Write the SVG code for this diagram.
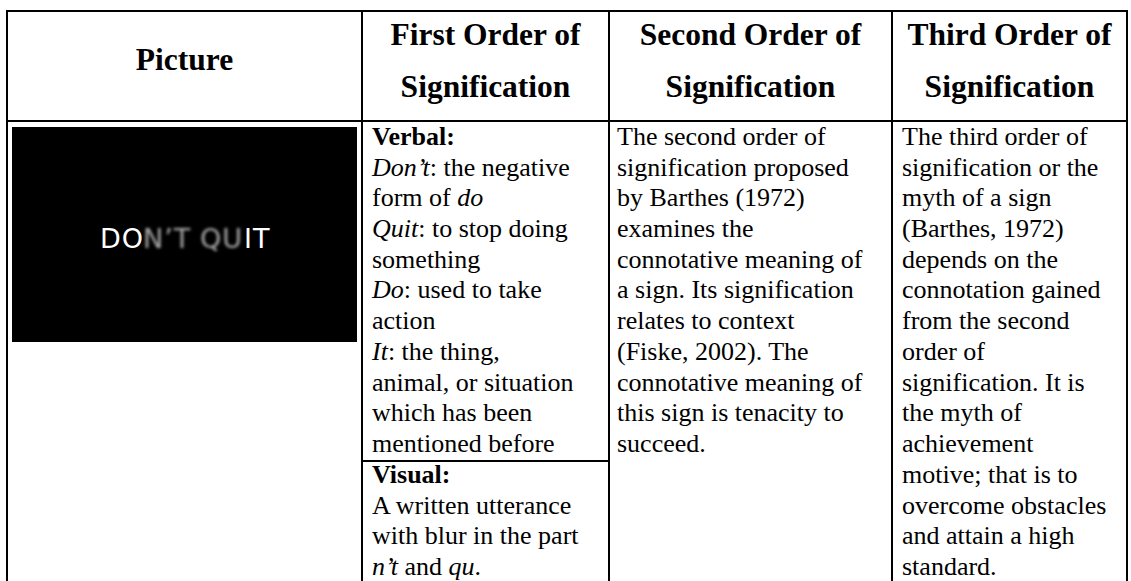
<svg xmlns="http://www.w3.org/2000/svg" width="1131" height="581" viewBox="0 0 1131 581">
<defs>
<style>
.rule{stroke:#000;stroke-width:2;fill:none}
.hd{font-family:"Liberation Serif","Times New Roman",serif;font-weight:bold;font-size:31.5px;fill:#000;text-anchor:middle}
.bd{font-family:"Liberation Serif","Times New Roman",serif;font-size:26px;fill:#000}
.i{font-style:italic}
.b{font-weight:bold}
.pic{font-family:"DejaVu Sans","Liberation Sans",sans-serif;font-size:27px;letter-spacing:1px}
</style>
<filter id="blur" x="-30%" y="-60%" width="160%" height="220%"><feGaussianBlur stdDeviation="1.5"/></filter>
</defs>
<rect width="1131" height="581" fill="#fff"/>
<g id="grid">
<line class="rule" x1="6" y1="11" x2="1128" y2="11"/>
<line class="rule" x1="6" y1="121" x2="1128" y2="121"/>
<line class="rule" x1="7" y1="10" x2="7" y2="581"/>
<line class="rule" x1="362" y1="10" x2="362" y2="581"/>
<line class="rule" x1="609" y1="10" x2="609" y2="581"/>
<line class="rule" x1="892" y1="10" x2="892" y2="581"/>
<line class="rule" x1="1127" y1="10" x2="1127" y2="581"/>
<line class="rule" x1="362" y1="461" x2="609" y2="461"/>
</g>
<g id="header">
<text class="hd" x="184.5" y="70">Picture</text>
<text class="hd" x="485.5" y="45">First Order of</text>
<text class="hd" x="485.5" y="97">Signification</text>
<text class="hd" x="750.5" y="45">Second Order of</text>
<text class="hd" x="750.5" y="97">Signification</text>
<text class="hd" x="1009.5" y="45">Third Order of</text>
<text class="hd" x="1009.5" y="97">Signification</text>
</g>
<g id="picture">
<rect x="12" y="127" width="345" height="215" fill="#000"/>
<text class="pic" x="100" y="248" fill="#fff">DO</text>
<text class="pic" x="143" y="248" fill="#aaaaaa" filter="url(#blur)">N’T</text>
<text class="pic" x="200" y="248" fill="#aaaaaa" filter="url(#blur)">QU</text>
<text class="pic" x="244" y="248" fill="#fff">IT</text>
</g>
<g id="first-order" class="bd">
<text x="372" y="145" class="b">Verbal:</text>
<text x="372" y="176"><tspan class="i">Don’t</tspan>: the negative</text>
<text x="372" y="206">form of <tspan class="i">do</tspan></text>
<text x="372" y="237"><tspan class="i">Quit</tspan>: to stop doing</text>
<text x="372" y="268">something</text>
<text x="372" y="298"><tspan class="i">Do</tspan>: used to take</text>
<text x="372" y="329">action</text>
<text x="372" y="360"><tspan class="i">It</tspan>: the thing,</text>
<text x="372" y="391">animal, or situation</text>
<text x="372" y="421">which has been</text>
<text x="372" y="452">mentioned before</text>
<text x="372" y="483" class="b">Visual:</text>
<text x="372" y="514">A written utterance</text>
<text x="372" y="544">with blur in the part</text>
<text x="372" y="575"><tspan class="i">n’t</tspan> and <tspan class="i">qu</tspan>.</text>
</g>
<g id="second-order" class="bd">
<text x="617" y="145">The second order of</text>
<text x="617" y="176">signification proposed</text>
<text x="617" y="206">by Barthes (1972)</text>
<text x="617" y="237">examines the</text>
<text x="617" y="268">connotative meaning of</text>
<text x="617" y="298">a sign. Its signification</text>
<text x="617" y="329">relates to context</text>
<text x="617" y="360">(Fiske, 2002). The</text>
<text x="617" y="391">connotative meaning of</text>
<text x="617" y="421">this sign is tenacity to</text>
<text x="617" y="452">succeed.</text>
</g>
<g id="third-order" class="bd">
<text x="902" y="145">The third order of</text>
<text x="902" y="176">signification or the</text>
<text x="902" y="206">myth of a sign</text>
<text x="902" y="237">(Barthes, 1972)</text>
<text x="902" y="268">depends on the</text>
<text x="902" y="298">connotation gained</text>
<text x="902" y="329">from the second</text>
<text x="902" y="360">order of</text>
<text x="902" y="391">signification. It is</text>
<text x="902" y="421">the myth of</text>
<text x="902" y="452">achievement</text>
<text x="902" y="483">motive; that is to</text>
<text x="902" y="514">overcome obstacles</text>
<text x="902" y="544">and attain a high</text>
<text x="902" y="575">standard.</text>
</g>
</svg>
